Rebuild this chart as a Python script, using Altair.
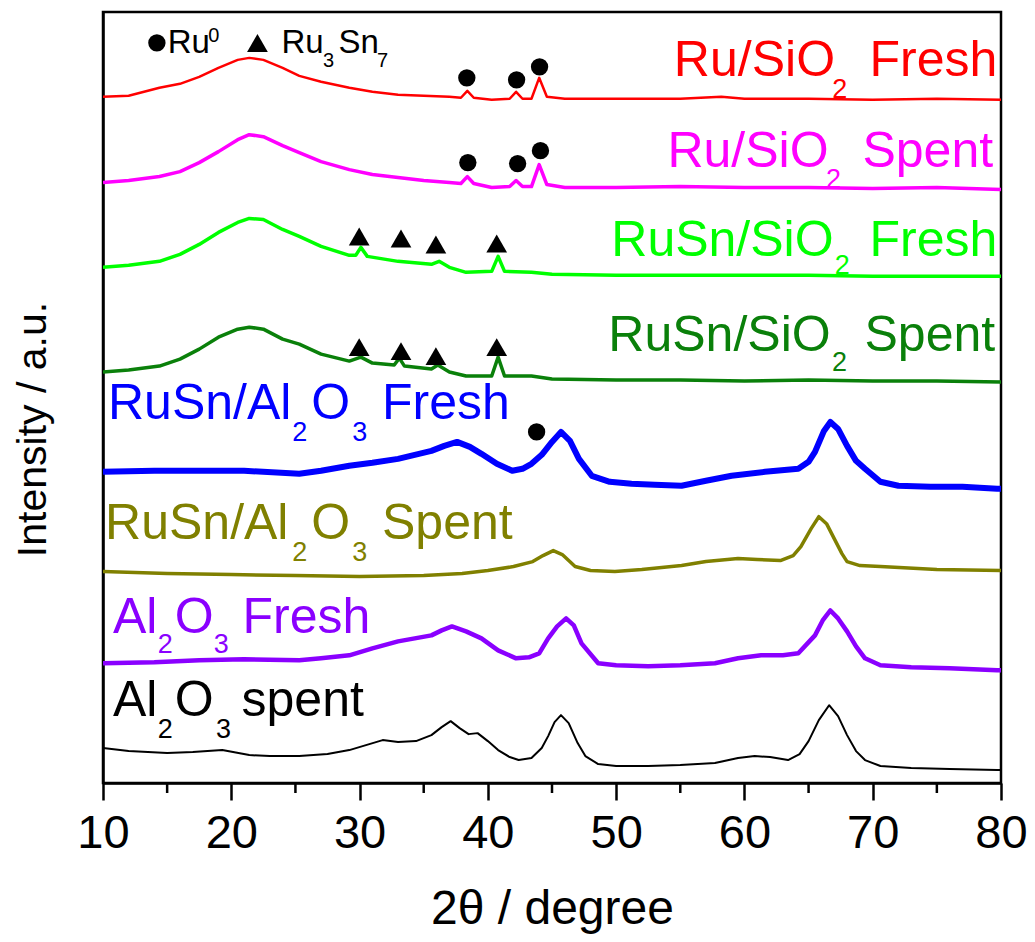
import altair as alt
import pandas as pd

FONT = "Liberation Sans"

# ---------------- data (2theta in degrees, intensity in a.u.) ----------------
series_names = ["Ru/SiO2 Fresh", "Ru/SiO2 Spent", "RuSn/SiO2 Fresh", "RuSn/SiO2 Spent",
                "RuSn/Al2O3 Fresh", "RuSn/Al2O3 Spent", "Al2O3 Fresh", "Al2O3 spent"]
series_colors = ["#FF0000", "#FF00FF", "#00FF00", "#0A800A",
                 "#0000FF", "#808000", "#8A00FF", "#000000"]
series_widths = [2.5, 3.5, 3.5, 3.5, 6.0, 3.5, 4.5, 2.0]

ru_fresh_x = [10, 12, 14.4, 16, 17.5, 19, 20.5, 21.4, 22.5, 24, 25.3, 27, 29.2, 31, 33, 35, 37, 37.9,
              38.4, 38.9, 40.3, 41.7, 42.2, 42.7, 43.4, 44.0, 44.6, 46, 50, 55, 58.2, 60, 65, 70, 75, 80]
ru_fresh_y = [688, 689, 697, 701, 708, 717, 725, 727, 725, 717, 709, 703, 697, 693, 690, 689, 688, 687,
              694, 687, 685, 686, 693, 686, 686, 707, 688, 686, 686, 686, 688, 686, 686, 685, 686, 685]

ru_spent_x = [10, 12, 14.4, 16, 17.5, 19, 20.5, 21.4, 22.5, 24, 25.3, 27, 29.2, 31, 33, 35, 37, 37.9,
              38.4, 38.9, 40.3, 41.7, 42.2, 42.7, 43.4, 44.0, 44.6, 46, 50, 55, 60, 65, 70, 75, 80]
ru_spent_y = [602, 604, 608, 613, 622, 633, 645, 650, 648, 639, 632, 623, 615, 610, 607, 604, 602, 601,
              608, 601, 597, 598, 604, 598, 598, 620, 600, 597, 597, 598, 597, 597, 596, 597, 595]

rusn_si_fresh_x = [10, 12, 14.4, 16, 17.5, 19, 20.5, 21.4, 22.5, 24, 25.3, 27, 29.2, 29.7, 30.1, 30.6,
                   33, 35.6, 36.2, 37, 38.3, 40.3, 40.8, 41.3, 43.4, 45, 50, 55, 60, 65, 70, 75, 80]
rusn_si_fresh_y = [517, 519, 523, 530, 540, 552, 562, 566, 565, 555, 548, 538, 529, 529, 537, 528,
                   523, 520, 523, 517, 512, 513, 528, 513, 512, 510, 509, 509, 509, 509, 508, 508, 508]

rusn_si_spent_x = [10, 12, 14.4, 16, 17.5, 19, 20.5, 21.4, 22.5, 24, 25.3, 27, 29.2, 30.1, 31, 32.7,
                   33.1, 33.5, 35.6, 36.1, 37, 38.3, 40.3, 40.8, 41.3, 43.4, 45, 50, 55, 60, 65, 70, 75, 80]
rusn_si_spent_y = [412, 414, 418, 425, 435, 447, 455, 457, 455, 445, 440, 430, 423, 427, 421, 419,
                   426, 418, 415, 419, 412, 408, 408, 427, 408, 408, 405, 404, 404, 403, 404, 403, 403, 402]

rusn_al_fresh_x = [10, 14, 17.5, 21, 25.3, 27, 29.2, 31, 33, 35.6, 36.6, 37.6, 38.6, 39.5, 40.7, 41.9,
                   42.7, 43.4, 44.2, 45, 45.7, 46.4, 47.1, 48.1, 49.5, 51.2, 53, 55.1, 57, 59, 61.6,
                   64.2, 65, 65.5, 66.2, 66.7, 67.3, 68, 68.7, 69.4, 70.6, 72, 74.5, 77, 79.7, 80]
rusn_al_fresh_y = [312, 313, 313, 313, 310, 313, 318, 321, 325, 333, 338, 342, 337, 330, 320, 313,
                   315, 320, 329, 342, 352, 343, 325, 308, 302, 300, 299, 298, 303, 308, 312,
                   315, 322, 332, 353, 362, 355, 338, 323, 315, 302, 298, 297, 297, 295, 295]

rusn_al_spent_x = [10, 15, 20, 25, 30, 35, 38, 40, 42, 43.5, 44.3, 45.1, 45.8, 46.8, 48, 49.9, 52,
                   55.1, 57, 59.5, 61, 62.8, 63.8, 64.4, 65.2, 65.8, 66.4, 67, 67.6, 68, 69, 70.6, 75, 80]
rusn_al_spent_y = [212, 210, 209, 208, 207, 208, 210, 213, 217, 222, 228, 233, 229, 217, 213, 212, 214,
                   218, 222, 225, 224, 223, 228, 237, 255, 267, 260, 245, 230, 222, 218, 217, 214, 213]

al_fresh_x = [10, 14, 17.5, 21, 25.3, 27, 29.2, 31, 33, 35.6, 36.4, 37.2, 38.3, 39.5, 40.8, 42.2, 43.2,
              44, 44.7, 45.4, 46.1, 46.7, 47.3, 48.6, 50, 52.5, 55, 57.7, 59.5, 61.3, 63, 64.2, 65.5,
              66.1, 66.7, 67.3, 68, 68.7, 69.4, 70.6, 73, 76, 79.7, 80]
al_fresh_y = [120, 121, 123, 124, 123, 125, 128, 135, 142, 148, 153, 157, 152, 145, 133, 125, 126,
              130, 145, 157, 165, 158, 140, 120, 118, 117, 118, 120, 125, 128, 128, 130, 148,
              163, 173, 165, 152, 137, 125, 118, 116, 115, 113, 113]

al_spent_x = [10, 12, 15, 17, 19.3, 21.4, 23, 25.3, 27.5, 29.2, 30.5, 31.8, 33, 34.4, 35.6, 36.4, 37.1,
              37.8, 38.5, 39.2, 40, 40.8, 41.7, 42.4, 43.4, 44.2, 44.7, 45.2, 45.7, 46.3, 47.0, 47.6,
              48.6, 50, 52.5, 55, 57.7, 59.5, 60.8, 62, 63.4, 64.3, 65, 65.8, 66.6, 67.3, 68, 68.7,
              69.4, 70.6, 73, 76, 79.7, 80]
al_spent_y = [35, 32, 30, 31, 33, 28, 27, 27, 29, 33, 38, 43, 41, 42, 48, 56, 62,
              55, 49, 50, 42, 33, 26, 23, 25, 35, 47, 61, 68, 60, 40, 27,
              19, 17, 17, 18, 20, 25, 27, 26, 23, 29, 42, 63, 78, 67, 48,
              32, 23, 17, 15, 14, 13, 13]

all_x = [ru_fresh_x, ru_spent_x, rusn_si_fresh_x, rusn_si_spent_x,
         rusn_al_fresh_x, rusn_al_spent_x, al_fresh_x, al_spent_x]
all_y = [ru_fresh_y, ru_spent_y, rusn_si_fresh_y, rusn_si_spent_y,
         rusn_al_fresh_y, rusn_al_spent_y, al_fresh_y, al_spent_y]

# phase markers on the patterns (last entry of each = legend symbol)
ru0_x = [38.36, 42.24, 44.03, 38.44, 42.32, 44.10, 43.80, 14.2]
ru0_y = [707, 705, 718, 622, 621, 634, 352, 742]
ru3sn7_x = [29.97, 33.23, 35.95, 40.69, 29.97, 33.23, 35.95, 40.69, 22.04]
ru3sn7_y = [548, 546, 540, 541, 437, 433, 428, 437, 742]

# label pieces -- main text
main_series = ["Ru/SiO2 Fresh", "Ru/SiO2 Fresh", "Ru/SiO2 Spent", "Ru/SiO2 Spent",
               "RuSn/SiO2 Fresh", "RuSn/SiO2 Fresh", "RuSn/SiO2 Spent", "RuSn/SiO2 Spent",
               "RuSn/Al2O3 Fresh", "RuSn/Al2O3 Fresh", "RuSn/Al2O3 Fresh",
               "RuSn/Al2O3 Spent", "RuSn/Al2O3 Spent", "RuSn/Al2O3 Spent",
               "Al2O3 Fresh", "Al2O3 Fresh", "Al2O3 Fresh",
               "Al2O3 spent", "Al2O3 spent", "Al2O3 spent"]
main_text = ["Ru/SiO", "Fresh", "Ru/SiO", "Spent", "RuSn/SiO", "Fresh", "RuSn/SiO", "Spent",
             "RuSn/Al", "O", "Fresh", "RuSn/Al", "O", "Spent", "Al", "O", "Fresh", "Al", "O", "spent"]
main_x = [54.50, 69.75, 54.00, 69.20, 49.62, 69.75, 49.39, 69.36,
          10.39, 26.24, 31.75, 10.16, 26.24, 31.75, 10.78, 15.59, 20.88, 10.78, 15.59, 20.80]
main_y = [709, 709, 618, 618, 528, 528, 433, 433,
          365, 365, 365, 245, 245, 245, 150, 150, 150, 67, 67, 67]

# label pieces -- subscripts
sub_series = ["Ru/SiO2 Fresh", "Ru/SiO2 Spent", "RuSn/SiO2 Fresh", "RuSn/SiO2 Spent",
              "RuSn/Al2O3 Fresh", "RuSn/Al2O3 Fresh", "RuSn/Al2O3 Spent", "RuSn/Al2O3 Spent",
              "Al2O3 Fresh", "Al2O3 Fresh", "Al2O3 spent", "Al2O3 spent"]
sub_text = ["2", "2", "2", "2", "2", "3", "2", "3", "2", "3", "2", "3"]
sub_x = [66.85, 66.35, 67.05, 66.82, 24.76, 29.42, 24.76, 29.42, 14.27, 18.63, 14.27, 18.80]
sub_y = [687, 597, 510, 413, 343, 343, 223, 223, 130, 130, 45, 45]

legend_text = ["Ru", "Ru", "Sn"]
legend_x = [15.05, 23.91, 28.35]
legend_y = [732, 732, 732]
legend_small_text = ["0", "3", "7"]
legend_small_x = [18.2, 27.15, 31.35]
legend_small_y = [743, 718, 718]

x_ticks = [10, 20, 30, 40, 50, 60, 70, 80]
x_minor = [15, 25, 35, 45, 55, 65, 75]

# ---------------- chart ----------------
W, H = 898, 771
xs = alt.Scale(domain=[10, 80], nice=False, zero=False)
ys = alt.Scale(domain=[0, 773], nice=False, zero=False)
cscale = alt.Scale(domain=series_names, range=series_colors)

layers = []
for name, col, sw, xx, yy in zip(series_names, series_colors, series_widths, all_x, all_y):
    df = pd.DataFrame({"t": xx, "v": yy, "s": name})
    layers.append(
        alt.Chart(df).mark_line(color=col, strokeWidth=sw, strokeJoin="round", clip=True).encode(
            x=alt.X("t:Q", scale=xs,
                    axis=alt.Axis(values=x_ticks, format="d", title="2θ / degree",
                                  labelFontSize=47, labelFont=FONT, labelColor="black",
                                  labelFlush=False, labelOverlap=False, labelPadding=10,
                                  tickSize=17, tickWidth=2.5, tickColor="black",
                                  domainWidth=2.5, domainColor="black", grid=False,
                                  titleFont=FONT, titleFontSize=48, titleFontWeight="normal",
                                  titleColor="black", titleBaseline="alphabetic", titleY=140)),
            y=alt.Y("v:Q", scale=ys,
                    axis=alt.Axis(labels=False, ticks=False, grid=False, domainWidth=2.5,
                                  domainColor="black", title="Intensity / a.u.",
                                  titleFont=FONT, titleFontSize=41, titleFontWeight="normal",
                                  titleColor="black", titleAngle=270, titleAlign="center",
                                  titleBaseline="middle", titleX=-70, titleY=417)),
        )
    )

minor = alt.Chart(pd.DataFrame({"t": x_minor})).mark_rule(color="black", strokeWidth=2.5).encode(
    x=alt.X("t:Q", scale=xs), y=alt.value(H), y2=alt.value(H + 10))

circles = alt.Chart(pd.DataFrame({"t": ru0_x, "v": ru0_y})).mark_point(
    shape="circle", filled=True, color="black", opacity=1, size=300).encode(
    x=alt.X("t:Q", scale=xs), y=alt.Y("v:Q", scale=ys))

tris = alt.Chart(pd.DataFrame({"t": ru3sn7_x, "v": ru3sn7_y})).mark_point(
    shape="triangle-up", filled=True, color="black", opacity=1, size=430).encode(
    x=alt.X("t:Q", scale=xs), y=alt.Y("v:Q", scale=ys))

main_lbl = alt.Chart(pd.DataFrame({"s": main_series, "txt": main_text, "t": main_x, "v": main_y})).mark_text(
    font=FONT, fontSize=50, align="left", baseline="alphabetic").encode(
    x=alt.X("t:Q", scale=xs), y=alt.Y("v:Q", scale=ys), text="txt:N",
    color=alt.Color("s:N", scale=cscale, legend=None))

sub_lbl = alt.Chart(pd.DataFrame({"s": sub_series, "txt": sub_text, "t": sub_x, "v": sub_y})).mark_text(
    font=FONT, fontSize=27, align="left", baseline="alphabetic").encode(
    x=alt.X("t:Q", scale=xs), y=alt.Y("v:Q", scale=ys), text="txt:N",
    color=alt.Color("s:N", scale=cscale, legend=None))

leg_lbl = alt.Chart(pd.DataFrame({"txt": legend_text, "t": legend_x, "v": legend_y})).mark_text(
    font=FONT, fontSize=33, align="left", baseline="alphabetic", color="black").encode(
    x=alt.X("t:Q", scale=xs), y=alt.Y("v:Q", scale=ys), text="txt:N")

leg_small = alt.Chart(pd.DataFrame({"txt": legend_small_text, "t": legend_small_x, "v": legend_small_y})).mark_text(
    font=FONT, fontSize=20, align="left", baseline="alphabetic", color="black").encode(
    x=alt.X("t:Q", scale=xs), y=alt.Y("v:Q", scale=ys), text="txt:N")

chart = alt.layer(*layers, minor, circles, tris, main_lbl, sub_lbl, leg_lbl, leg_small).properties(
    width=W, height=H,
    background="white",
    autosize=alt.AutoSizeParams(type="none"),
    padding={"left": 95, "top": 4, "right": 26, "bottom": 151},
).configure_view(stroke="black", strokeWidth=2.5)

chart.save("out.html", embed_options={"renderer": "svg", "actions": False})
